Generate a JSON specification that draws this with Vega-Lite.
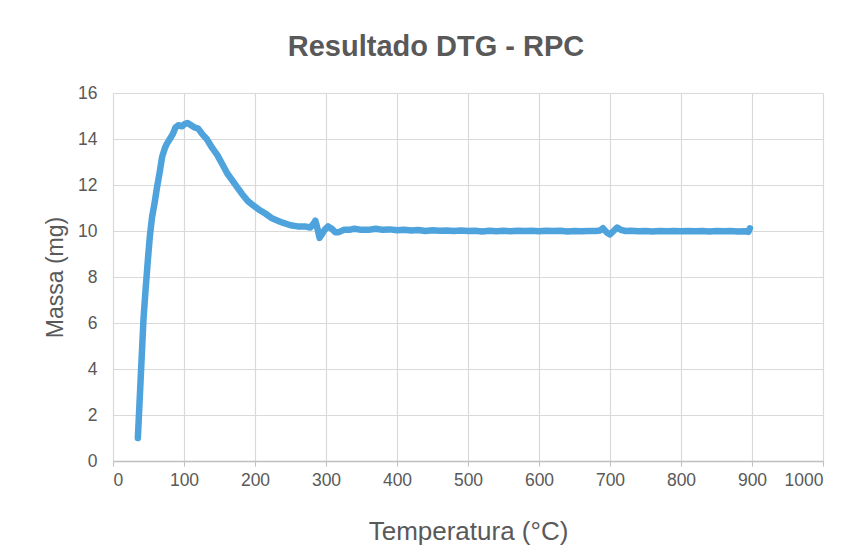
{
  "$schema": "https://vega.github.io/schema/vega-lite/v6.json",
  "width": 710,
  "height": 368,
  "autosize": {"type": "none"},
  "padding": {"left": 113, "top": 93, "right": 37, "bottom": 99},
  "background": "white",
  "title": {
    "text": "Resultado DTG - RPC",
    "font": "Liberation Sans",
    "fontSize": 29,
    "fontWeight": "bold",
    "color": "#595959",
    "anchor": "middle",
    "offset": 22,
    "dx": -32
  },
  "config": {
    "view": {"stroke": null},
    "axis": {
      "labelFont": "Liberation Sans",
      "titleFont": "Liberation Sans",
      "labelColor": "#595959",
      "titleColor": "#595959",
      "labelFontSize": 17.5,
      "gridColor": "#d9d9d9",
      "gridWidth": 1.2,
      "titleFontWeight": "normal"
    }
  },
  "data": {
    "values": [
      {"t": 35, "m": 1.0}, {"t": 37, "m": 2.3}, {"t": 39, "m": 3.6}, {"t": 41, "m": 4.9},
      {"t": 43, "m": 6.2}, {"t": 46, "m": 7.5}, {"t": 49, "m": 8.7}, {"t": 52, "m": 9.8},
      {"t": 55, "m": 10.6}, {"t": 59, "m": 11.3}, {"t": 62, "m": 11.9}, {"t": 66, "m": 12.6},
      {"t": 69, "m": 13.2}, {"t": 73, "m": 13.6}, {"t": 76, "m": 13.8}, {"t": 80, "m": 14.0},
      {"t": 84, "m": 14.2}, {"t": 88, "m": 14.5}, {"t": 92, "m": 14.6}, {"t": 97, "m": 14.55},
      {"t": 101, "m": 14.65}, {"t": 105, "m": 14.7}, {"t": 110, "m": 14.6}, {"t": 115, "m": 14.5},
      {"t": 120, "m": 14.45}, {"t": 126, "m": 14.2}, {"t": 132, "m": 14.0}, {"t": 140, "m": 13.6},
      {"t": 147, "m": 13.3}, {"t": 154, "m": 12.9}, {"t": 161, "m": 12.5}, {"t": 168, "m": 12.2},
      {"t": 175, "m": 11.9}, {"t": 182, "m": 11.6}, {"t": 190, "m": 11.3}, {"t": 198, "m": 11.1},
      {"t": 207, "m": 10.9}, {"t": 215, "m": 10.75}, {"t": 224, "m": 10.55}, {"t": 232, "m": 10.45},
      {"t": 240, "m": 10.35}, {"t": 250, "m": 10.25}, {"t": 260, "m": 10.2}, {"t": 270, "m": 10.2},
      {"t": 278, "m": 10.15}, {"t": 282, "m": 10.3}, {"t": 285, "m": 10.45}, {"t": 288, "m": 10.1},
      {"t": 291, "m": 9.7}, {"t": 294, "m": 9.85}, {"t": 298, "m": 10.05}, {"t": 303, "m": 10.2},
      {"t": 308, "m": 10.1}, {"t": 313, "m": 9.95}, {"t": 318, "m": 9.95}, {"t": 325, "m": 10.05},
      {"t": 333, "m": 10.05}, {"t": 340, "m": 10.1}, {"t": 350, "m": 10.05}, {"t": 360, "m": 10.05},
      {"t": 370, "m": 10.1}, {"t": 380, "m": 10.05}, {"t": 390, "m": 10.07}, {"t": 400, "m": 10.03},
      {"t": 410, "m": 10.05}, {"t": 420, "m": 10.02}, {"t": 430, "m": 10.04}, {"t": 440, "m": 10.0},
      {"t": 450, "m": 10.03}, {"t": 460, "m": 10.01}, {"t": 470, "m": 10.02}, {"t": 480, "m": 10.0},
      {"t": 490, "m": 10.02}, {"t": 500, "m": 10.0}, {"t": 510, "m": 10.01}, {"t": 520, "m": 9.98},
      {"t": 530, "m": 10.01}, {"t": 540, "m": 9.99}, {"t": 550, "m": 10.01}, {"t": 560, "m": 9.99},
      {"t": 570, "m": 10.01}, {"t": 580, "m": 10.0}, {"t": 590, "m": 10.01}, {"t": 600, "m": 9.99},
      {"t": 610, "m": 10.01}, {"t": 620, "m": 10.0}, {"t": 630, "m": 10.01}, {"t": 640, "m": 9.98},
      {"t": 650, "m": 10.0}, {"t": 660, "m": 9.99}, {"t": 670, "m": 10.0}, {"t": 680, "m": 10.0},
      {"t": 686, "m": 10.02}, {"t": 690, "m": 10.12}, {"t": 695, "m": 9.95}, {"t": 700, "m": 9.85},
      {"t": 705, "m": 10.0}, {"t": 710, "m": 10.15}, {"t": 715, "m": 10.05}, {"t": 722, "m": 10.0},
      {"t": 730, "m": 10.01}, {"t": 740, "m": 9.99}, {"t": 750, "m": 10.0}, {"t": 760, "m": 9.98},
      {"t": 770, "m": 10.0}, {"t": 780, "m": 9.99}, {"t": 790, "m": 10.0}, {"t": 800, "m": 9.99},
      {"t": 810, "m": 10.0}, {"t": 820, "m": 9.99}, {"t": 830, "m": 10.0}, {"t": 840, "m": 9.98},
      {"t": 850, "m": 10.0}, {"t": 860, "m": 9.99}, {"t": 870, "m": 10.0}, {"t": 880, "m": 9.98},
      {"t": 890, "m": 9.99}, {"t": 895, "m": 9.96}, {"t": 897, "m": 10.12}
    ]
  },
  "mark": {"type": "line", "color": "#4ea3dc", "strokeWidth": 6.5, "strokeCap": "round", "strokeJoin": "round"},
  "encoding": {
    "x": {
      "field": "t",
      "type": "quantitative",
      "scale": {"domain": [0, 1000], "nice": false},
      "axis": {
        "title": "Temperatura (°C)",
        "titleFontSize": 26,
        "titlePadding": 30,
        "format": "d",
        "values": [0, 100, 200, 300, 400, 500, 600, 700, 800, 900, 1000],
        "tickColor": "#bfbfbf",
        "tickSize": 5,
        "domainColor": "#bfbfbf",
        "domainWidth": 1.5,
        "labelPadding": 5
      }
    },
    "y": {
      "field": "m",
      "type": "quantitative",
      "scale": {"domain": [0, 16], "nice": false},
      "axis": {
        "title": "Massa (mg)",
        "titleFontSize": 23,
        "titlePadding": 10,
        "values": [0, 2, 4, 6, 8, 10, 12, 14, 16],
        "domain": false,
        "ticks": false,
        "labelPadding": 16
      }
    }
  }
}
